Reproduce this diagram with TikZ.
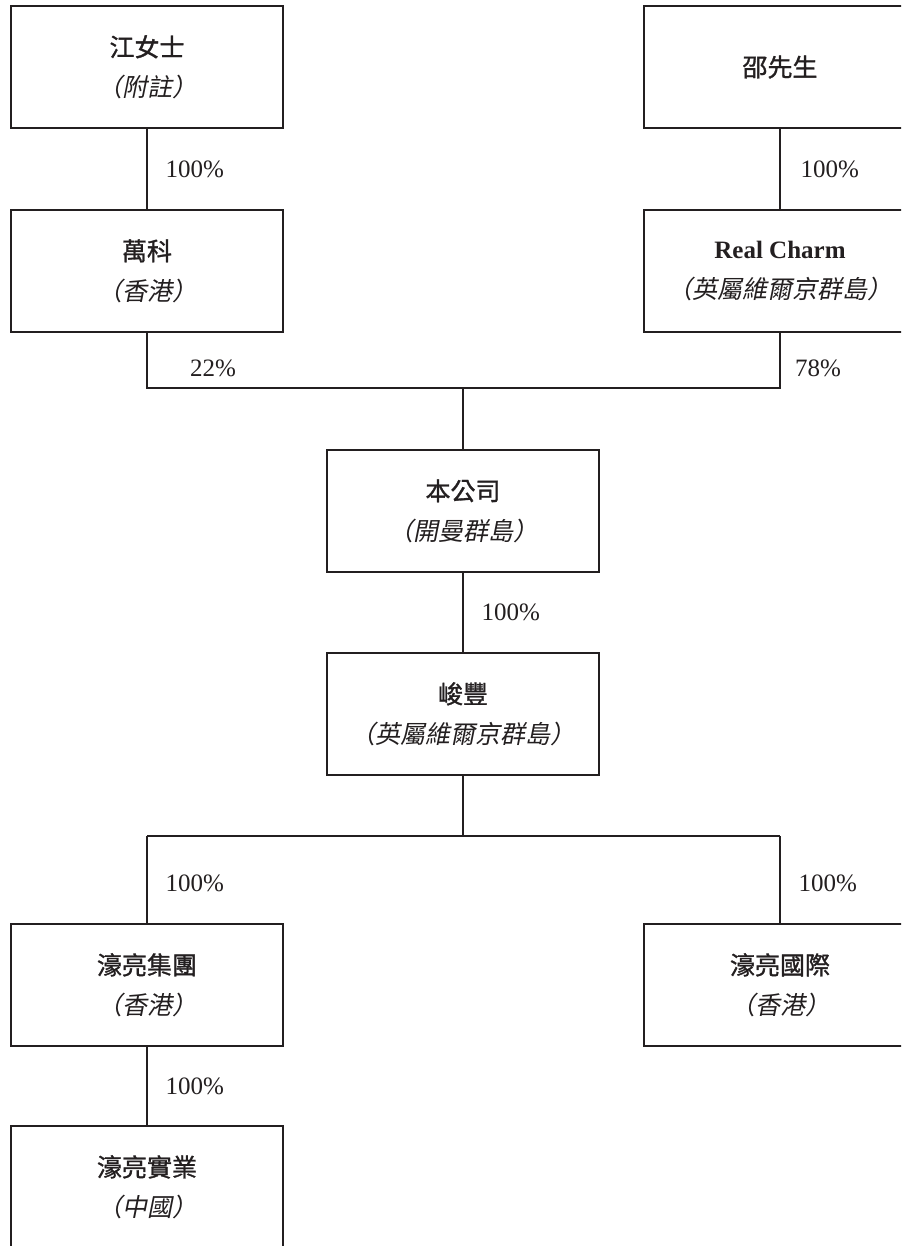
\documentclass[tikz,border=0pt]{standalone}
\usepackage{fontspec}
\setmainfont{Liberation Serif}
\newfontfamily\cjk{Noto Sans CJK TC}[FakeBold=1.2]
\newfontfamily\cjkit{Noto Sans CJK TC}[FakeSlant=0.2]
\usepackage{tikz}
\usetikzlibrary{calc,positioning}
\definecolor{ink}{HTML}{231F20}
\newcommand{\entity}[2]{{\cjk #1}\\{\cjkit #2}}
\tikzset{
  holding/.style={
    draw=ink, line width=0.8pt, text=ink,
    minimum width=204pt, minimum height=91.5pt, inner sep=0pt,
    align=center, font=\fontsize{18.75}{30}\selectfont
  },
  pct/.style={
    anchor=west, inner sep=0pt, text=ink, xshift=13.5pt,
    font=\fontsize{18.75}{22}\selectfont
  },
  link/.style={draw=ink, line width=0.8pt}
}

\begin{document}
\begin{tikzpicture}[x=0.75pt,y=-0.75pt]
\useasboundingbox (0,0) rectangle (901,1246);
\clip (0,0) rectangle (901,1246);

% shareholders
\node[holding] (jiang) at (147,67) {\entity{江女士}{（附註）}};
\node[holding] (shao) at (780,67) {{\cjk 邵先生}};
\node[holding] (wanke) at (147,271) {\entity{萬科}{（香港）}};
\node[holding] (realcharm) at (780,271) {\textbf{Real Charm}\\{\cjkit （英屬維爾京群島）}};

% the company
\coordinate (join) at (463,388);
\node[holding] (company) at (463,511) {\entity{本公司}{（開曼群島）}};
\node[holding] (junfeng) at (463,714) {\entity{峻豐}{（英屬維爾京群島）}};

% subsidiaries
\coordinate (split) at (463,836);
\node[holding] (group) at (147,985) {\entity{濠亮集團}{（香港）}};
\node[holding] (intl) at (780,985) {\entity{濠亮國際}{（香港）}};
\node[holding] (shiye) at (147,1187) {\entity{濠亮實業}{（中國）}};

\draw[link] (jiang) -- node[pct] {100\%} (wanke);
\draw[link] (shao) -- node[pct, xshift=1.5pt] {100\%} (realcharm);
\draw[link] (wanke.south) -- node[pct, xshift=18.5pt, yshift=-6pt] {22\%} (wanke.south |- join)
  -- (realcharm.south |- join)
  -- node[pct, xshift=-2.5pt, yshift=-6pt] {78\%} (realcharm.south);
\draw[link] (join) -- (company);
\draw[link] (company) -- node[pct] {100\%} (junfeng);
\draw[link] (junfeng) -- (split);
\draw[link] (group.north |- split) -- (intl.north |- split);
\draw[link] (group.north |- split) -- node[pct, yshift=-3pt] {100\%} (group);
\draw[link] (intl.north |- split) -- node[pct, yshift=-3pt] {100\%} (intl);
\draw[link] (group) -- node[pct] {100\%} (shiye);
\end{tikzpicture}
\end{document}
